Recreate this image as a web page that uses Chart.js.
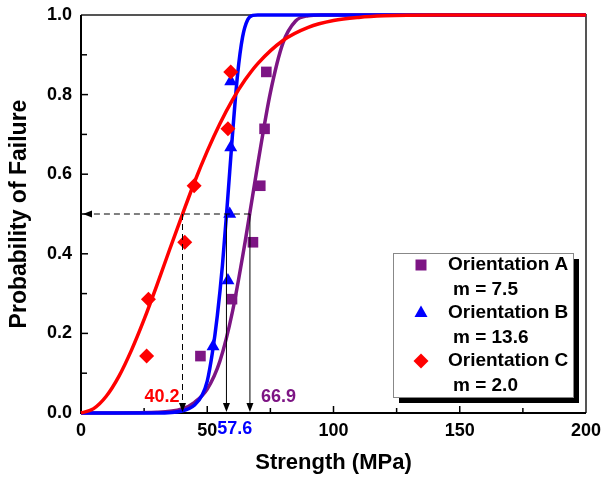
<!DOCTYPE html>
<html>
<head>
<meta charset="utf-8">
<script src="https://cdn.jsdelivr.net/npm/chart.js@4/dist/chart.umd.min.js"></script>
<style>
  html, body { margin: 0; padding: 0; background: #fff; }
</style>
</head>
<body>
<canvas id="weibullChart" width="601" height="479"></canvas>
<script>
const orientA_x = [47.3, 59.8, 68.1, 71.0, 72.7, 73.4];
const orientA_p = [0.143, 0.286, 0.429, 0.571, 0.714, 0.857];
const orientB_x = [52.3, 58.2, 58.9, 59.3, 59.3];
const orientB_p = [0.167, 0.333, 0.5, 0.667, 0.833];
const orientC_x = [26.0, 26.7, 41.1, 44.8, 58.2, 59.3];
const orientC_p = [0.143, 0.286, 0.429, 0.571, 0.714, 0.857];

// Fitted curves
const fitA_x = [0, 30, 40, 45, 50, 55, 60, 65, 70, 75, 80, 85, 90, 95, 200];
const fitA_p = [0, 0.002, 0.01, 0.027, 0.06, 0.13, 0.255, 0.43, 0.625, 0.805, 0.93, 0.985, 0.998, 1, 1];
const fitB_x = [0, 30, 40, 45, 48, 50, 52, 54, 56, 58, 60, 62, 64, 66, 68, 70, 100, 200];
const fitB_p = [0, 0, 0.005, 0.02, 0.045, 0.08, 0.15, 0.245, 0.37, 0.53, 0.70, 0.85, 0.945, 0.988, 0.999, 1, 1, 1];
const fitC_x = [0, 5, 10, 15, 20, 25, 30, 35, 40, 45, 50, 55, 60, 65, 70, 80, 90, 100, 110, 120, 140, 170, 200];
const fitC_p = [0, 0.011, 0.042, 0.092, 0.158, 0.235, 0.320, 0.409, 0.496, 0.581, 0.658, 0.727, 0.787, 0.837, 0.878, 0.936, 0.969, 0.986, 0.994, 0.998, 1, 1, 1];

// Median strengths marked with arrows
const medianLabels = ['40.2', '57.6', '66.9'];
const medianValues = [40.2, 57.6, 66.9];

const legendNames = ['Orientation A', 'Orientation B', 'Orientation C'];
const legendModuli = ['m = 7.5', 'm = 13.6', 'm = 2.0'];

const PURPLE = '#7d1584';
const BLUE = '#0000ff';
const RED = '#ff0000';
const FONT = '"Liberation Sans", Arial, sans-serif';

function pairs(xs, ys) {
    return xs.map((x, i) => ({ x: x, y: ys[i] }));
}

function curve(xs, ys, color, order) {
    return {
        data: pairs(xs, ys),
        showLine: true,
        borderColor: color,
        borderWidth: 3.5,
        pointRadius: 0,
        cubicInterpolationMode: 'monotone',
        clip: false,
        order: order
    };
}

function markers(xs, ys, color, style, radius, order) {
    return {
        data: pairs(xs, ys),
        showLine: false,
        pointStyle: style,
        pointRadius: radius,
        backgroundColor: color,
        borderColor: color,
        borderWidth: 0,
        clip: false,
        order: order
    };
}

function drawArrowHead(ctx, x, y, dir) {
    ctx.beginPath();
    if (dir === 'down') {
        ctx.moveTo(x, y);
        ctx.lineTo(x - 3.5, y - 9);
        ctx.lineTo(x + 3.5, y - 9);
    } else {
        ctx.moveTo(x, y);
        ctx.lineTo(x + 9, y - 3.5);
        ctx.lineTo(x + 9, y + 3.5);
    }
    ctx.closePath();
    ctx.fill();
}

function drawMarker(ctx, style, x, y, color) {
    ctx.fillStyle = color;
    ctx.beginPath();
    if (style === 'rect') {
        ctx.rect(x - 5.5, y - 5.5, 11, 11);
    } else if (style === 'triangle') {
        ctx.moveTo(x, y - 7.5);
        ctx.lineTo(x + 6.5, y + 4);
        ctx.lineTo(x - 6.5, y + 4);
        ctx.closePath();
    } else {
        ctx.moveTo(x, y - 7.5);
        ctx.lineTo(x + 7.5, y);
        ctx.lineTo(x, y + 7.5);
        ctx.lineTo(x - 7.5, y);
        ctx.closePath();
    }
    ctx.fill();
}

const framePlugin = {
    id: 'frame',
    beforeDatasetsDraw(chart) {
        const ctx = chart.ctx;
        const xs = chart.scales.x, ys = chart.scales.y;
        const { left, right, top, bottom } = chart.chartArea;
        ctx.save();
        ctx.strokeStyle = '#000';
        ctx.lineWidth = 1.5;
        // inward ticks
        for (let v = 0; v <= 200; v += 25) {
            const px = xs.getPixelForValue(v);
            ctx.beginPath();
            ctx.moveTo(px, bottom);
            ctx.lineTo(px, bottom - (v % 50 === 0 ? 7 : 5));
            ctx.stroke();
        }
        for (let i = 0; i <= 10; i++) {
            const py = ys.getPixelForValue(i / 10);
            ctx.beginPath();
            ctx.moveTo(left, py);
            ctx.lineTo(left + (i % 2 === 0 ? 7 : 6), py);
            ctx.stroke();
        }
        // frame
        ctx.lineWidth = 2;
        ctx.strokeStyle = '#555';
        ctx.beginPath();
        ctx.moveTo(left, top);
        ctx.lineTo(right, top);
        ctx.lineTo(right, bottom);
        ctx.stroke();
        ctx.strokeStyle = '#000';
        ctx.beginPath();
        ctx.moveTo(left, top);
        ctx.lineTo(left, bottom);
        ctx.lineTo(right, bottom);
        ctx.stroke();
        ctx.restore();
    },
    afterDatasetsDraw(chart) {
        const ctx = chart.ctx;
        const xs = chart.scales.x, ys = chart.scales.y;
        const { left, bottom } = chart.chartArea;
        const yHalf = ys.getPixelForValue(0.5);
        ctx.save();
        ctx.strokeStyle = '#000';
        ctx.fillStyle = '#000';
        ctx.lineWidth = 1;

        // horizontal dashed line at P = 0.5
        const pxLast = xs.getPixelForValue(medianValues[2]);
        ctx.setLineDash([6, 4]);
        ctx.beginPath();
        ctx.moveTo(pxLast, yHalf);
        ctx.lineTo(left + 8, yHalf);
        ctx.stroke();
        ctx.setLineDash([]);
        drawArrowHead(ctx, left + 2, yHalf, 'left');

        // vertical lines down to the axis
        medianValues.forEach((v, i) => {
            const px = xs.getPixelForValue(v);
            ctx.setLineDash(i === 0 ? [6, 4] : []);
            ctx.beginPath();
            ctx.moveTo(px, yHalf);
            ctx.lineTo(px, bottom - 8);
            ctx.stroke();
            ctx.setLineDash([]);
            drawArrowHead(ctx, px, bottom - 1, 'down');
        });

        // value labels
        ctx.font = 'bold 18px ' + FONT;
        ctx.textBaseline = 'middle';
        ctx.fillStyle = RED;
        ctx.textAlign = 'right';
        ctx.fillText(medianLabels[0], xs.getPixelForValue(medianValues[0]) - 3, bottom - 16);
        ctx.fillStyle = PURPLE;
        ctx.textAlign = 'left';
        ctx.fillText(medianLabels[2], xs.getPixelForValue(medianValues[2]) + 11, bottom - 16);
        ctx.fillStyle = BLUE;
        ctx.fillText(medianLabels[1], xs.getPixelForValue(50) + 10, bottom + 16);

        // legend box with drop shadow
        const bx = 393, by = 253, bw = 180, bh = 144;
        ctx.fillStyle = '#000';
        ctx.fillRect(bx + 6, by + 6, bw, bh);
        ctx.fillStyle = '#fff';
        ctx.fillRect(bx, by, bw, bh);
        ctx.strokeStyle = '#888';
        ctx.lineWidth = 1;
        ctx.strokeRect(bx + 0.5, by + 0.5, bw, bh);

        const styles = ['rect', 'triangle', 'diamond'];
        const colors = [PURPLE, BLUE, RED];
        ctx.font = 'bold 19px ' + FONT;
        ctx.textAlign = 'left';
        ctx.textBaseline = 'middle';
        legendNames.forEach((name, i) => {
            const rowY = by + 12 + i * 48;
            drawMarker(ctx, styles[i], bx + 28, rowY, colors[i]);
            ctx.fillStyle = '#000';
            ctx.fillText(name, bx + 55, rowY);
            ctx.fillText(legendModuli[i], bx + 60, rowY + 25);
        });
        ctx.restore();
    }
};

new Chart(document.getElementById('weibullChart'), {
    type: 'scatter',
    data: {
        datasets: [
            markers(orientC_x, orientC_p, RED, 'rectRot', 7.5, 0),
            markers(orientB_x, orientB_p, BLUE, 'triangle', 7.5, 1),
            markers(orientA_x, orientA_p, PURPLE, 'rect', 7.5, 2),
            curve(fitC_x, fitC_p, RED, 3),
            curve(fitB_x, fitB_p, BLUE, 4),
            curve(fitA_x, fitA_p, PURPLE, 5)
        ]
    },
    options: {
        responsive: false,
        animation: false,
        devicePixelRatio: 1,
        layout: { padding: { left: 0, top: 15, right: 15, bottom: 0 } },
        plugins: {
            legend: { display: false },
            tooltip: { enabled: false }
        },
        scales: {
            x: {
                type: 'linear',
                min: 0,
                max: 200,
                grid: { display: false, drawTicks: false },
                border: { display: false },
                ticks: {
                    stepSize: 50,
                    padding: 7,
                    color: '#000',
                    font: { family: FONT, size: 18, weight: 'bold' }
                },
                title: {
                    display: true,
                    text: 'Strength (MPa)',
                    color: '#000',
                    padding: { top: 0, bottom: 3 },
                    font: { family: FONT, size: 22, weight: 'bold' }
                },
                afterFit: (scale) => {
                    scale.height = 66;
                    scale.paddingLeft = 0;
                    scale.paddingRight = 0;
                }
            },
            y: {
                type: 'linear',
                min: 0,
                max: 1,
                grid: { display: false, drawTicks: false },
                border: { display: false },
                ticks: {
                    stepSize: 0.2,
                    padding: 9,
                    color: '#000',
                    font: { family: FONT, size: 18, weight: 'bold' },
                    callback: (v) => v.toFixed(1)
                },
                title: {
                    display: true,
                    text: 'Probability of Failure',
                    color: '#000',
                    padding: { top: 6, bottom: 0 },
                    font: { family: FONT, size: 23, weight: 'bold' }
                },
                afterFit: (scale) => {
                    scale.width = 81;
                    scale.paddingTop = 0;
                    scale.paddingBottom = 0;
                }
            }
        }
    },
    plugins: [framePlugin]
});
</script>
</body>
</html>
